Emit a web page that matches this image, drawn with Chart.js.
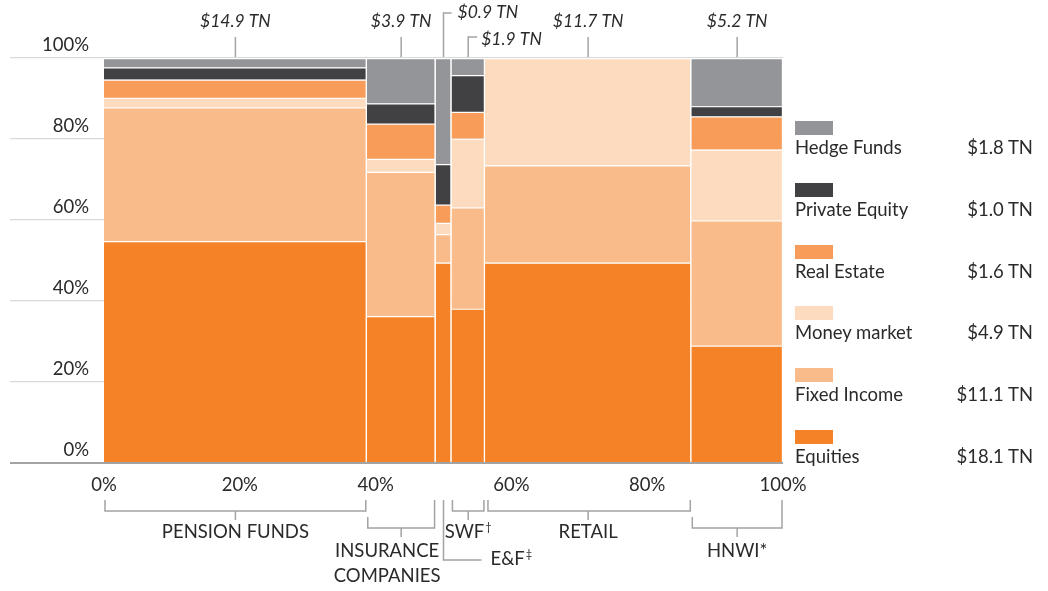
<!DOCTYPE html>
<html>
<head>
<meta charset="utf-8">
<script src="https://cdn.jsdelivr.net/npm/chart.js@4.4.1/dist/chart.umd.min.js"></script>
<style>
  body { margin: 0; background: #fff; font-family: Lato, sans-serif; }
  #wrap { position: relative; width: 1048px; height: 591px; }
  #legend { position: absolute; left: 795px; top: 0; width: 238px; }
  .item { position: absolute; left: 0; width: 238px; height: 40px; color: #2a2a2a; font-size: 18.5px; line-height: 22px; }
  .sw { position: absolute; left: 0; top: 0; width: 38px; height: 14px; }
  .lab { position: absolute; left: 0; top: 15px; }
  .val { position: absolute; right: 0; top: 15px; }
</style>
</head>
<body>
<div id="wrap">
  <canvas id="chart" width="1048" height="591"></canvas>
  <div id="legend"></div>
</div>
<script>
// columns (width = assets in $ TN)
var columns = ['PENSION FUNDS', ['INSURANCE', 'COMPANIES'], 'E&F‡', 'SWF†', 'RETAIL', 'HNWI*'];
var columnTotals = [14.9, 3.9, 0.9, 1.9, 11.7, 5.2];

// series, bottom to top, share of each column in %
var seriesNames = ['Equities', 'Fixed Income', 'Money market', 'Real Estate', 'Private Equity', 'Hedge Funds'];
var seriesTotals = ['$18.1 TN', '$11.1 TN', '$4.9 TN', '$1.6 TN', '$1.0 TN', '$1.8 TN'];
var seriesColors = ['#f58227', '#f9bb89', '#fddbbe', '#f79d59', '#414042', '#939598'];
var equities = [54.8, 36.3, 49.5, 38.1, 49.5, 29.0];
var fixedIncome = [33.0, 35.6, 7.0, 25.0, 24.0, 30.9];
var moneyMarket = [2.4, 3.2, 2.8, 17.0, 26.5, 17.5];
var realEstate = [4.5, 8.7, 4.5, 6.6, 0, 8.2];
var privateEquity = [3.0, 5.0, 10.0, 9.1, 0, 2.5];
var hedgeFunds = [2.3, 11.2, 26.2, 4.2, 0, 11.9];
var seriesValues = [equities, fixedIncome, moneyMarket, realEstate, privateEquity, hedgeFunds];

var xTicks = [0, 20, 40, 60, 80, 100];
var yTicks = [0, 20, 40, 60, 80, 100];

var grandTotal = columnTotals.reduce(function(a, b) { return a + b; }, 0);
var starts = [], widths = [];
var acc = 0;
columnTotals.forEach(function(t) {
  starts.push(acc);
  widths.push(t / grandTotal * 100);
  acc += t / grandTotal * 100;
});

var datasets = columns.map(function(name, c) {
  var base = 0;
  var data = seriesValues.map(function(vals) {
    var p = { x: starts[c] + widths[c] / 2, y: [base, base + vals[c]] };
    base += vals[c];
    return p;
  });
  return {
    label: String(name),
    data: data,
    stack: 'all',
    backgroundColor: seriesColors,
    borderColor: '#ffffff',
    borderWidth: { top: 1.5, right: 1.5, bottom: 0, left: 0 },
    borderSkipped: false,
    barThickness: function(ctx) {
      var x = ctx.chart.scales.x;
      return x.getPixelForValue(starts[c] + widths[c]) - x.getPixelForValue(starts[c]);
    }
  };
});

var textColor = '#2a2a2a';
var lineColor = '#a3a3a3';
var font = 'Lato';
var fontSize = 18.5;

function drawLabel(ctx, text, x, y, align) {
  var last = text.slice(-1);
  if (last === '†' || last === '‡') {
    var main = text.slice(0, -1);
    ctx.font = fontSize + 'px ' + font;
    var w = ctx.measureText(main).width;
    ctx.font = '11px ' + font;
    var sw = ctx.measureText(last).width;
    var left = align === 'left' ? x : x - (w + sw + 1) / 2;
    ctx.textAlign = 'left';
    ctx.font = fontSize + 'px ' + font;
    ctx.fillText(main, left, y);
    ctx.font = '11px ' + font;
    ctx.fillText(last, left + w + 1, y - 5);
  } else {
    ctx.font = fontSize + 'px ' + font;
    ctx.textAlign = align || 'center';
    ctx.fillText(text, x, y);
  }
}

var annotate = {
  id: 'annotate',
  afterDraw: function(chart) {
    var ctx = chart.ctx;
    var x = chart.scales.x;
    var top = chart.chartArea.top;
    var bottom = chart.chartArea.bottom;
    ctx.save();
    ctx.strokeStyle = lineColor;
    ctx.lineWidth = 1.5;
    ctx.fillStyle = textColor;
    ctx.textBaseline = 'middle';

    columns.forEach(function(name, i) {
      var x0 = x.getPixelForValue(starts[i]);
      var x1 = x.getPixelForValue(starts[i] + widths[i]);
      var cx = (x0 + x1) / 2;
      var label = '$' + columnTotals[i].toFixed(1) + ' TN';

      // top total labels
      ctx.beginPath();
      ctx.font = 'italic 17.5px ' + font;
      if (i === 2) {
        ctx.moveTo(cx, top - 1);
        ctx.lineTo(cx, top - 45);
        ctx.lineTo(cx + 8, top - 45);
        ctx.stroke();
        ctx.textAlign = 'left';
        ctx.fillText(label, cx + 14, top - 46);
      } else if (i === 3) {
        ctx.moveTo(cx, top - 1);
        ctx.lineTo(cx, top - 21);
        ctx.lineTo(cx + 9, top - 21);
        ctx.stroke();
        ctx.textAlign = 'left';
        ctx.fillText(label, cx + 13, top - 19);
      } else {
        ctx.moveTo(cx, top - 1);
        ctx.lineTo(cx, top - 21);
        ctx.stroke();
        ctx.textAlign = 'center';
        ctx.fillText(label, cx, top - 37);
      }

      // bottom brackets
      var a = x0 + 1, b = x1 - 1;
      var y0 = bottom + 37;
      ctx.beginPath();
      if (i === 2) {
        ctx.moveTo(cx, y0);
        ctx.lineTo(cx, y0 + 60);
        ctx.lineTo(cx + 38, y0 + 60);
        ctx.stroke();
        drawLabel(ctx, name, cx + 47, y0 + 59, 'left');
      } else if (i === 1 || i === 5) {
        ctx.moveTo(a, y0 + 17);
        ctx.lineTo(a, y0 + 28);
        ctx.lineTo(b, y0 + 28);
        ctx.lineTo(b, y0);
        ctx.moveTo(cx, y0 + 28);
        ctx.lineTo(cx, y0 + 37);
        ctx.stroke();
        if (Array.isArray(name)) {
          name.forEach(function(line, k) {
            drawLabel(ctx, line, cx - 14, y0 + 51 + k * 25, 'center');
          });
        } else {
          drawLabel(ctx, name, cx, y0 + 51, 'center');
        }
      } else {
        if (i === 4) a = x0 + 3;
        ctx.moveTo(a, y0);
        ctx.lineTo(a, y0 + 11);
        ctx.lineTo(b, y0 + 11);
        ctx.lineTo(b, y0);
        ctx.moveTo(cx, y0 + 11);
        ctx.lineTo(cx, y0 + 20);
        ctx.stroke();
        drawLabel(ctx, name, cx, y0 + 32, 'center');
      }
    });
    ctx.restore();
  }
};

var chart = new Chart(document.getElementById('chart'), {
  type: 'bar',
  data: { datasets: datasets },
  options: {
    responsive: false,
    animation: false,
    layout: { padding: { top: 58, right: 265, bottom: 0, left: 0 } },
    plugins: { legend: { display: false }, tooltip: { enabled: false } },
    scales: {
      x: {
        type: 'linear',
        min: 0,
        max: 100,
        offset: false,
        afterBuildTicks: function(s) { s.ticks = xTicks.map(function(v) { return { value: v }; }); },
        ticks: {
          callback: function(v) { return v + '%'; },
          color: textColor,
          font: { family: font, size: fontSize },
          padding: 11,
          maxRotation: 0
        },
        grid: { display: false, drawTicks: false, offset: false },
        border: { display: false },
        afterFit: function(s) { s.height = 128; }
      },
      y: {
        min: 0,
        max: 100,
        stacked: false,
        afterBuildTicks: function(s) { s.ticks = yTicks.map(function(v) { return { value: v }; }); },
        ticks: {
          callback: function(v) { return v + '%'; },
          color: textColor,
          font: { family: font, size: fontSize },
          padding: -79,
          labelOffset: -13
        },
        grid: {
          tickLength: 94,
          color: function(c) { return c.tick && c.tick.value === 0 ? '#a3a3a3' : '#d9d9d9'; },
          lineWidth: function(c) { return c.tick && c.tick.value === 0 ? 2 : 1.2; }
        },
        border: { display: false },
        afterFit: function(s) { s.width = 104; }
      }
    }
  },
  plugins: [annotate]
});

// legend, top to bottom
var legend = document.getElementById('legend');
for (var i = seriesNames.length - 1; i >= 0; i--) {
  var row = seriesNames.length - 1 - i;
  var item = document.createElement('div');
  item.className = 'item';
  item.style.top = (121 + row * 61.8) + 'px';
  item.innerHTML = '<div class="sw" style="background:' + seriesColors[i] + '"></div>' +
    '<div class="lab">' + seriesNames[i] + '</div><div class="val">' + seriesTotals[i] + '</div>';
  legend.appendChild(item);
}
</script>
</body>
</html>
